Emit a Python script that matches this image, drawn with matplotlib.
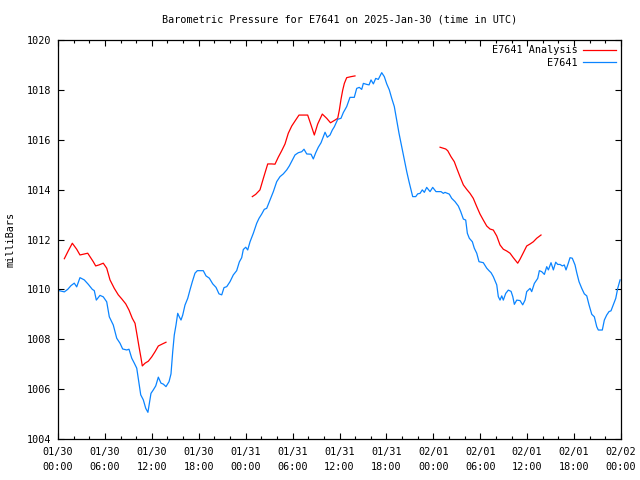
import numpy as np
import matplotlib
matplotlib.use('Agg')
import matplotlib.pyplot as plt
from matplotlib.ticker import MultipleLocator

# Hours since 2025-01-30 00:00 UTC and pressure in millibars
obs_hours = [0.0, 0.81, 1.24, 1.66, 2.08, 2.39, 2.81, 3.36, 3.88, 4.39, 4.64, 4.90, 5.37, 5.79,
             6.23, 6.56, 7.07, 7.51, 7.93, 8.27, 8.79, 9.08, 9.43, 9.76, 10.07, 10.36, 10.58,
             10.91, 11.22, 11.50, 11.89, 12.19, 12.50, 12.83, 13.17, 13.47, 13.81, 14.20, 14.45,
             14.67, 14.87, 15.09, 15.31, 15.51, 15.73, 15.95, 16.24, 16.59, 16.88, 17.18, 17.52,
             17.82, 18.58, 18.93, 19.35, 19.79, 20.21, 20.59, 20.94, 21.23, 21.58, 22.00, 22.42,
             22.85, 23.19, 23.49, 23.70, 24.01, 24.26, 24.56, 24.98, 25.41, 25.71, 26.05, 26.38,
             26.69, 27.11, 27.54, 27.97, 28.39, 28.81, 29.25, 29.58, 29.97, 30.31, 30.73, 31.17,
             31.46, 31.81, 32.36, 32.65, 32.96, 33.29, 33.64, 33.93, 34.15, 34.44, 34.79, 35.08,
             35.34, 35.77, 36.19, 36.49, 36.92, 37.34, 37.89, 38.20, 38.53, 38.84, 39.05, 39.48,
             39.78, 40.03, 40.33, 40.63, 40.96, 41.18, 41.40, 41.73, 42.04, 42.37, 42.68, 43.01,
             43.32, 43.61, 43.96, 44.29, 44.60, 44.89, 45.15, 45.36, 45.75, 46.00, 46.30, 46.59,
             46.85, 47.15, 47.58, 47.92, 48.34, 48.98, 49.28, 49.49, 50.04, 50.35, 50.77, 51.20,
             51.50, 51.84, 52.14, 52.35, 52.60, 52.99, 53.24, 53.55, 53.84, 54.39, 54.83, 55.12,
             55.38, 55.67, 56.11, 56.31, 56.53, 56.75, 56.95, 57.26, 57.59, 57.94, 58.16, 58.36,
             58.67, 59.09, 59.43, 59.73, 59.94, 60.37, 60.58, 60.92, 61.35, 61.56, 61.86, 62.20,
             62.50, 62.71, 63.05, 63.35, 63.65, 63.91, 64.20, 64.50, 64.75, 64.97, 65.26, 65.48,
             65.77, 66.12, 66.34, 66.63, 66.98, 67.31, 67.62, 67.91, 68.26, 68.59, 68.90, 69.10,
             69.61, 69.87, 70.17, 70.47, 70.72, 71.02, 71.33, 71.58, 71.88]
obs_mb = [1009.96, 1009.90, 1010.00, 1010.15, 1010.25, 1010.10, 1010.47, 1010.38, 1010.20, 1010.00,
          1009.95, 1009.57, 1009.76, 1009.70, 1009.50, 1008.90, 1008.57, 1008.04, 1007.84, 1007.61,
          1007.57, 1007.60, 1007.24, 1007.04, 1006.84, 1006.24, 1005.77, 1005.57, 1005.23, 1005.07,
          1005.83, 1005.97, 1006.13, 1006.48, 1006.24, 1006.20, 1006.10, 1006.30, 1006.61, 1007.50,
          1008.17, 1008.57, 1009.04, 1008.90, 1008.77, 1008.97, 1009.37, 1009.64, 1009.98, 1010.31,
          1010.65, 1010.75, 1010.75, 1010.54, 1010.45, 1010.22, 1010.08, 1009.82, 1009.78, 1010.07,
          1010.11, 1010.31, 1010.58, 1010.75, 1011.10, 1011.27, 1011.60, 1011.69, 1011.58, 1011.91,
          1012.25, 1012.65, 1012.85, 1013.02, 1013.21, 1013.25, 1013.58, 1013.92, 1014.32, 1014.52,
          1014.63, 1014.79, 1014.95, 1015.19, 1015.39, 1015.48, 1015.52, 1015.62, 1015.43, 1015.42,
          1015.23, 1015.48, 1015.70, 1015.88, 1016.12, 1016.30, 1016.10, 1016.19, 1016.39, 1016.52,
          1016.82, 1016.86, 1017.09, 1017.33, 1017.70, 1017.70, 1018.06, 1018.10, 1018.02, 1018.26,
          1018.22, 1018.20, 1018.40, 1018.24, 1018.46, 1018.42, 1018.56, 1018.69, 1018.53, 1018.24,
          1018.00, 1017.66, 1017.33, 1016.79, 1016.26, 1015.72, 1015.19, 1014.72, 1014.32, 1013.99,
          1013.72, 1013.72, 1013.83, 1013.85, 1013.99, 1013.89, 1014.09, 1013.92, 1014.09, 1013.92,
          1013.92, 1013.85, 1013.89, 1013.82, 1013.65, 1013.52, 1013.34, 1013.12, 1012.82, 1012.78,
          1012.25, 1012.05, 1011.91, 1011.65, 1011.45, 1011.11, 1011.07, 1010.85, 1010.75, 1010.67,
          1010.51, 1010.18, 1009.71, 1009.57, 1009.74, 1009.57, 1009.84, 1009.97, 1009.92, 1009.71,
          1009.40, 1009.57, 1009.55, 1009.38, 1009.57, 1009.91, 1010.04, 1009.91, 1010.24, 1010.44,
          1010.75, 1010.71, 1010.60, 1010.91, 1010.78, 1011.07, 1010.78, 1011.09, 1011.00, 1011.00,
          1010.94, 1010.98, 1010.78, 1011.05, 1011.27, 1011.25, 1010.98, 1010.67, 1010.31, 1010.04,
          1009.82, 1009.74, 1009.38, 1009.00, 1008.90, 1008.50, 1008.37, 1008.37, 1008.77, 1008.97,
          1009.11, 1009.14, 1009.38, 1009.64, 1010.04, 1010.38]

# analysis runs come in three separate pieces
ana1_hours = [0.81, 1.32, 1.83, 2.39, 2.81, 3.24, 3.80, 4.22, 4.51, 4.82, 5.24, 5.79, 6.23, 6.65,
              7.20, 7.71, 8.15, 8.66, 9.08, 9.50, 9.85, 10.07, 10.36, 10.62, 10.78, 11.13, 11.55,
              11.98, 12.41, 12.83, 13.34, 13.81]
ana1_mb = [1011.23, 1011.55, 1011.85, 1011.61, 1011.38, 1011.41, 1011.45, 1011.25, 1011.11, 1010.94,
           1010.98, 1011.05, 1010.85, 1010.38, 1010.04, 1009.78, 1009.62, 1009.42, 1009.17, 1008.84,
           1008.64, 1008.24, 1007.70, 1007.24, 1006.93, 1007.04, 1007.12, 1007.29, 1007.50, 1007.73,
           1007.81, 1007.88]
ana2_hours = [24.85, 25.28, 25.83, 26.26, 26.82, 27.33, 27.75, 28.17, 28.61, 29.03, 29.45, 29.89,
              30.31, 30.82, 31.93, 32.36, 32.78, 33.21, 33.80, 34.36, 34.85, 35.43, 35.77, 35.98,
              36.19, 36.41, 36.62, 36.92, 37.47, 37.98]
ana2_mb = [1013.72, 1013.81, 1013.99, 1014.45, 1015.03, 1015.03, 1015.02, 1015.30, 1015.56, 1015.83,
           1016.26, 1016.55, 1016.75, 1016.99, 1016.99, 1016.59, 1016.19, 1016.63, 1017.03, 1016.86,
           1016.68, 1016.79, 1016.86, 1017.19, 1017.62, 1017.99, 1018.26, 1018.49, 1018.53, 1018.56]
ana3_hours = [48.86, 49.58, 49.84, 50.26, 50.68, 50.99, 51.41, 51.84, 52.27, 52.69, 53.11, 53.55,
              53.97, 54.39, 54.83, 55.25, 55.67, 56.11, 56.53, 56.95, 57.38, 57.81, 58.23, 58.79,
              59.09, 59.51, 59.94, 60.37, 60.79, 61.22, 61.77]
ana3_mb = [1015.70, 1015.63, 1015.56, 1015.32, 1015.12, 1014.86, 1014.52, 1014.19, 1014.01, 1013.85,
           1013.65, 1013.32, 1013.02, 1012.78, 1012.54, 1012.42, 1012.38, 1012.14, 1011.78, 1011.61,
           1011.54, 1011.45, 1011.27, 1011.05, 1011.21, 1011.47, 1011.74, 1011.82, 1011.91, 1012.05,
           1012.18]

tick_hours = [0, 6, 12, 18, 24, 30, 36, 42, 48, 54, 60, 66, 72]
tick_labels = ['01/30\n00:00', '01/30\n06:00', '01/30\n12:00', '01/30\n18:00',
               '01/31\n00:00', '01/31\n06:00', '01/31\n12:00', '01/31\n18:00',
               '02/01\n00:00', '02/01\n06:00', '02/01\n12:00', '02/01\n18:00',
               '02/02\n00:00']

plt.rcParams['font.family'] = 'DejaVu Sans Mono'
plt.rcParams['font.size'] = 7.3

fig = plt.figure(figsize=(6.4, 4.8), dpi=100)
ax = fig.add_axes([58/640, 1 - 439/480, (621 - 58)/640, (439 - 40)/480])

# join analysis pieces with gaps so they draw as one legend entry
ana_hours = ana1_hours + [np.nan] + ana2_hours + [np.nan] + ana3_hours
ana_mb = ana1_mb + [np.nan] + ana2_mb + [np.nan] + ana3_mb

ax.plot(ana_hours, ana_mb, color='#ff0000', lw=0.9, label='E7641 Analysis')
ax.plot(obs_hours, obs_mb, color='#0a84ff', lw=0.9, label='E7641')

ax.set_xlim(0, 72)
ax.set_ylim(1004, 1020)
ax.set_xticks(tick_hours)
ax.set_xticklabels(tick_labels, linespacing=1.6)
ax.xaxis.set_minor_locator(MultipleLocator(2))
ax.yaxis.set_major_locator(MultipleLocator(2))
ax.tick_params(which='both', direction='in', top=True, right=True, width=0.8)
ax.tick_params(which='major', length=4)
ax.tick_params(which='minor', length=2)
ax.tick_params(axis='x', pad=6)
ax.tick_params(axis='y', pad=5)
for s in ax.spines.values():
    s.set_linewidth(0.9)

ax.set_ylabel('milliBars', labelpad=8)
fig.text(340/640, 1 - 19/480, 'Barometric Pressure for E7641 on 2025-Jan-30 (time in UTC)',
         ha='center', va='center')

ax.legend(loc='upper right', frameon=False, markerfirst=False, handlelength=3.2,
          handletextpad=0.6, labelspacing=0.25, borderaxespad=0.3, borderpad=0.2)

fig.savefig('out.png', dpi=100)
